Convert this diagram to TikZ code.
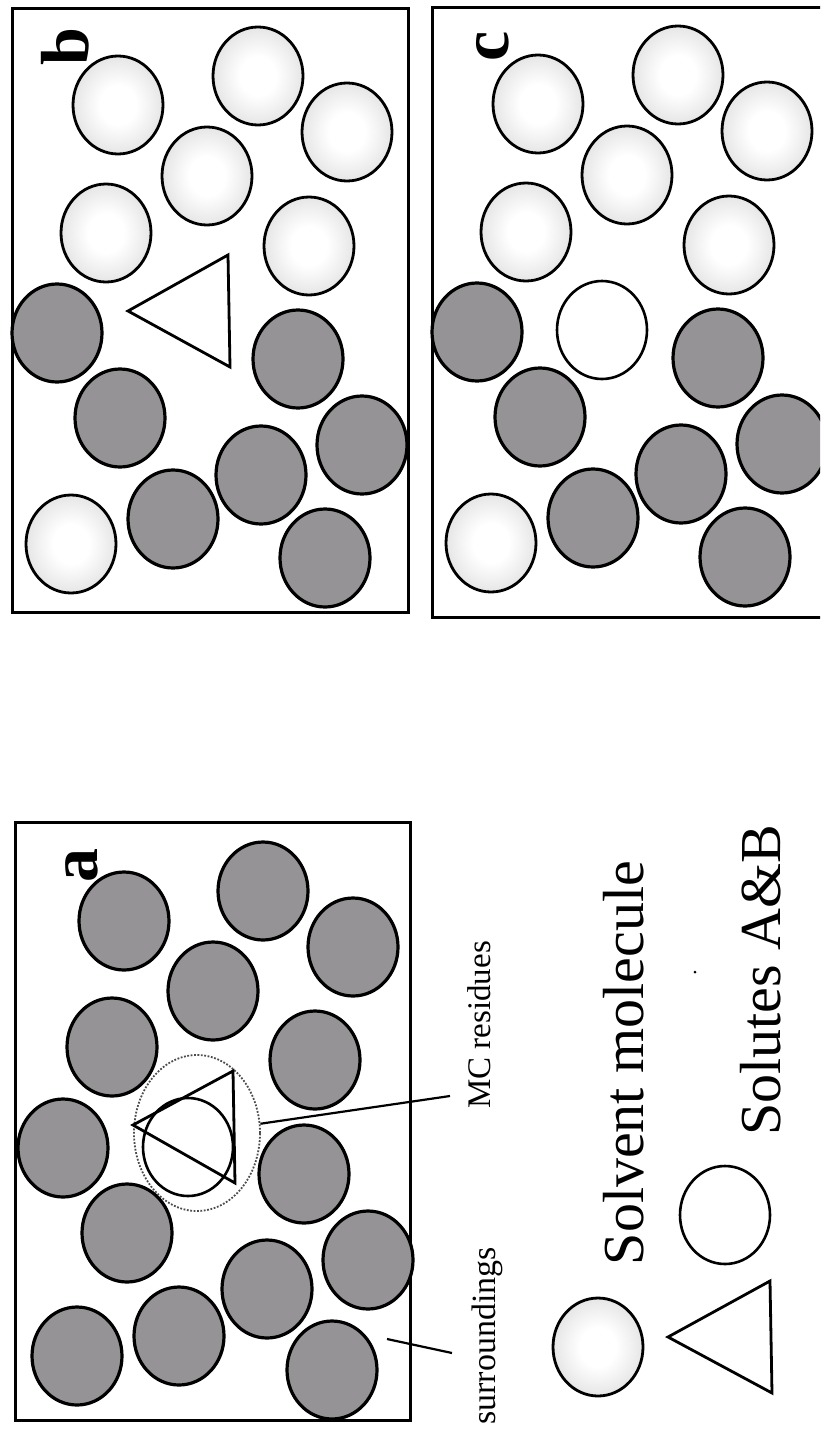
\documentclass[tikz,border=0pt]{standalone}
\usepackage{fontspec}
\setmainfont{Liberation Serif}
\definecolor{resGray}{RGB}{150,147,150}
\definecolor{solvMid}{RGB}{218,218,218}
\definecolor{solvEdge}{RGB}{182,182,182}
\usetikzlibrary{shapes.geometric}
\pgfdeclareradialshading{solvfill}{\pgfpoint{0bp}{0bp}}{color(0bp)=(white); color(10bp)=(white); color(32bp)=(solvMid); color(50bp)=(solvEdge)}

\begin{document}
\begin{tikzpicture}[x=1pt, y=-1pt,
    res/.style={ellipse, draw=black, fill=resGray, line width=3.2pt,
                minimum width=90pt, minimum height=98pt, inner sep=0pt},
    solv/.style={ellipse, draw=black, shade, shading=solvfill, line width=2.8pt,
                minimum width=90pt, minimum height=98pt, inner sep=0pt},
    solute/.style={ellipse, draw=black, fill=white, line width=2.6pt,
                minimum width=90pt, minimum height=98pt, inner sep=0pt},
    frame/.style={draw=black, line width=3pt},
    tri/.style={draw=black, line width=2.8pt, line join=miter},
    tag/.style={rotate=90, anchor=base, font=\fontsize{68}{68}\selectfont\bfseries},
    lbl/.style={rotate=90, anchor=base},
    lead/.style={draw=black, line width=2.2pt}
  ]
  \useasboundingbox (0,0) rectangle (820,1429);
  \clip (0,0) rectangle (820,1429);

  % panel b
  \begin{scope}[shift={(12,9)}]
    \draw[frame] (0,0) rectangle (396,603);
    \node[tag] (labb) at (76,38) {b};
    \node[solv] (b1)  at (106,96)  {};
    \node[solv] (b2)  at (246,67)  {};
    \node[solv] (b3)  at (335,123) {};
    \node[solv] (b4)  at (195,167) {};
    \node[solv] (b5)  at (94,224)  {};
    \node[solv] (b6)  at (297,237) {};
    \node[solv] (b7)  at (59,535)  {};
    \node[res]  (b8)  at (45,324)  {};
    \node[res]  (b9)  at (286,350) {};
    \node[res]  (b10) at (108,409) {};
    \node[res]  (b11) at (350,436) {};
    \node[res]  (b12) at (249,466) {};
    \node[res]  (b13) at (161,510) {};
    \node[res]  (b14) at (313,549) {};
    \draw[tri] (116,302) -- (216,246) -- (218,358) -- cycle;
  \end{scope}

  % panel c
  \begin{scope}[shift={(432,8)}]
    \draw[frame] (0,0) rectangle (396,609);
    \node[tag] (labc) at (76,38) {c};
    \node[solv] (c1)  at (106,96)  {};
    \node[solv] (c2)  at (246,67)  {};
    \node[solv] (c3)  at (335,123) {};
    \node[solv] (c4)  at (195,167) {};
    \node[solv] (c5)  at (94,224)  {};
    \node[solv] (c6)  at (297,237) {};
    \node[solv] (c7)  at (59,535)  {};
    \node[res]  (c8)  at (45,324)  {};
    \node[res]  (c9)  at (286,350) {};
    \node[res]  (c10) at (108,409) {};
    \node[res]  (c11) at (350,436) {};
    \node[res]  (c12) at (249,466) {};
    \node[res]  (c13) at (161,510) {};
    \node[res]  (c14) at (313,549) {};
    \node[solute] (c0) at (170,322) {};
  \end{scope}

  % panel a
  \begin{scope}[shift={(15,822)}]
    \draw[frame] (0,0) rectangle (395,598);
    \node[tag] (laba) at (82,43) {a};
    \node[res] (a1)  at (109,99)  {};
    \node[res] (a2)  at (248,69)  {};
    \node[res] (a3)  at (338,125) {};
    \node[res] (a4)  at (198,169) {};
    \node[res] (a5)  at (97,225)  {};
    \node[res] (a6)  at (300,238) {};
    \node[res] (a7)  at (62,534)  {};
    \node[res] (a8)  at (48,326)  {};
    \node[res] (a9)  at (289,352) {};
    \node[res] (a10) at (112,411) {};
    \node[res] (a11) at (353,438) {};
    \node[res] (a12) at (252,467) {};
    \node[res] (a13) at (164,514) {};
    \node[res] (a14) at (317,548) {};
    \node[ellipse, draw=black!70, line width=1.8pt, dash pattern=on 1.8pt off 1.6pt,
          minimum width=126pt, minimum height=156pt] (mcr) at (182,311) {};
    \node[solute, fill=none] (a0) at (173,325) {};
    \draw[tri] (118,303) -- (218,249) -- (220,361) -- cycle;
  \end{scope}

  % leaders
  \coordinate (mcend) at (450,1096);
  \coordinate (surin) at (387,1339);
  \coordinate (surend) at (452,1353);
  \draw[lead] (mcr) -- (mcend);
  \draw[lead] (surin) -- (surend);
  \node[lbl, font=\fontsize{33}{33}\selectfont] (mctxt) at (490,1025) {MC residues};
  \node[lbl, font=\fontsize{34}{34}\selectfont] (surtxt) at (495,1336) {surroundings};

  % legend
  \node[solv] (keysolv) at (598,1347) {};
  \node[solute] (keysol) at (725,1215) {};
  \draw[tri] (668,1337) -- (770,1281) -- (772,1393) -- cycle;
  \node[lbl, font=\fontsize{58}{58}\selectfont] (solvtxt) at (643,1063) {Solvent molecule};
  \node[lbl, font=\fontsize{58}{58}\selectfont] (soltxt) at (780,980) {Solutes A\&B};
  \fill (695,972) circle (1.5);
\end{tikzpicture}
\end{document}
